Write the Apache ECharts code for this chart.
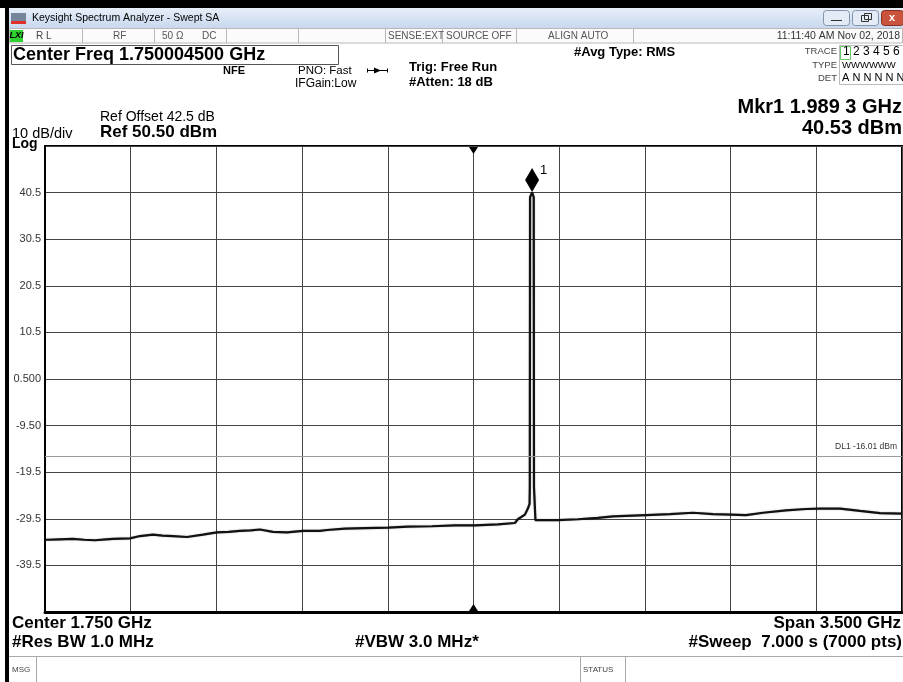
<!DOCTYPE html>
<html>
<head>
<meta charset="utf-8">
<script src="https://cdn.jsdelivr.net/npm/echarts@6.0.0/dist/echarts.min.js"></script>
<style>
html, body { margin: 0; padding: 0; background: #fff; }
#spec { width: 903px; height: 682px; }
</style>
</head>
<body>
<div id="spec"></div>
<script>
// trace (GHz / dBm)
var freqGHz = [0.000, 0.012, 0.060, 0.114, 0.160, 0.204, 0.250, 0.278, 0.347, 0.388,
  0.441, 0.480, 0.523, 0.580, 0.645, 0.702, 0.750, 0.796, 0.840, 0.878,
  0.931, 0.988, 1.054, 1.123, 1.152, 1.225, 1.307, 1.401, 1.482, 1.581,
  1.674, 1.756, 1.850, 1.919, 1.931, 1.960, 1.972, 1.979, 1.980, 1.981,
  1.9893, 1.996, 1.997, 2.003, 2.009, 2.095, 2.177, 2.258, 2.320, 2.455,
  2.552, 2.646, 2.728, 2.802, 2.863, 2.933, 3.026, 3.108, 3.165, 3.247,
  3.328, 3.410, 3.500];
var levelDbm = [-34.0, -34.0, -33.9, -33.8, -34.0, -34.1, -33.9, -33.8, -33.7, -33.2,
  -32.9, -33.1, -33.2, -33.4, -32.9, -32.4, -32.3, -32.1, -32.0, -31.8,
  -32.3, -32.4, -32.1, -32.1, -31.9, -31.6, -31.5, -31.4, -31.2, -31.1,
  -30.9, -30.9, -30.7, -30.4, -29.6, -28.6, -27.3, -26.3, -22.7, 39.5,
  40.53, 39.5, -22.7, -29.8, -30.0, -29.8, -29.6, -29.3, -29.0, -28.7,
  -28.5, -28.2, -28.5, -28.6, -28.7, -28.2, -27.7, -27.4, -27.3, -27.3,
  -27.8, -28.3, -28.4];
var yTickLabels = ['-39.5', '-29.5', '-19.5', '-9.50', '0.500', '10.5', '20.5', '30.5', '40.5'];

var refLevel = 50.5, dbPerDiv = 10, startGHz = 0, spanGHz = 3.5, centerGHz = 1.75;
var markerFreq = 1.9893, markerLevel = 40.53;
var displayLine = -16.01;
var yMin = refLevel - 10 * dbPerDiv;

var F = '"Liberation Sans", Arial, sans-serif';

var chartDom = document.getElementById('spec');
var myChart = echarts.init(chartDom);

var g = [];
function txt(x, y, s, font, opt) {
  opt = opt || {};
  g.push({
    type: 'text', x: x, y: y, z: 100,
    style: {
      text: s, font: font, fill: opt.fill || '#000',
      textAlign: opt.align || 'left', textVerticalAlign: 'middle'
    }
  });
}
function box(x, y, w, h, fill, stroke, r) {
  g.push({
    type: 'rect', z: 90,
    shape: { x: x, y: y, width: w, height: h, r: r || 0 },
    style: { fill: fill || 'none', stroke: stroke || null, lineWidth: 1 }
  });
}
function vline(x, y1, y2, c) {
  g.push({ type: 'line', z: 95, shape: { x1: x, y1: y1, x2: x, y2: y2 }, style: { stroke: c, lineWidth: 1 } });
}
function hline(x1, x2, y, c) {
  g.push({ type: 'line', z: 95, shape: { x1: x1, y1: y, x2: x2, y2: y }, style: { stroke: c, lineWidth: 1 } });
}

// window frame + title bar
box(0, 0, 903, 8, '#000');
box(5, 0, 4, 682, '#000');
g.push({
  type: 'rect', z: 90, shape: { x: 9, y: 8, width: 894, height: 20 },
  style: { fill: new echarts.graphic.LinearGradient(0, 0, 0, 1, [
    { offset: 0, color: '#e6eef9' }, { offset: 1, color: '#c8d8ee' }]) }
});
box(11, 13, 15, 11, '#76859a');
box(11, 21, 15, 3, '#e0302a');
txt(32, 18, 'Keysight Spectrum Analyzer - Swept SA', '10.5px ' + F);
box(823.5, 10.5, 26, 15, '#e3ebf6', '#8293ab', 3);
hline(831, 842, 20.5, '#333');
box(852.5, 10.5, 26, 15, '#e3ebf6', '#8293ab', 3);
box(861.5, 15.5, 7, 6, null, '#333');
box(864.5, 13.5, 7, 6, null, '#333');
box(881.5, 10.5, 22, 15, '#c9533c', '#8a3022', 3);
txt(892, 18, 'x', 'bold 11px ' + F, { fill: '#fff', align: 'center' });

// status row
box(9.5, 28.5, 893, 14.5, '#fbfbfb', '#b8b8b8');
box(10, 30, 13, 12, '#2fd12f');
txt(16.5, 36, 'LXI', 'italic bold 9px ' + F, { align: 'center' });
[82, 154, 226, 298, 385, 442, 516, 633].forEach(function (x) { vline(x + 0.5, 28.5, 43, '#b8b8b8'); });
txt(36, 36, 'R L', '10px ' + F, { fill: '#444' });
txt(113, 36, 'RF', '10px ' + F, { fill: '#555' });
txt(162, 36, '50 Ω', '10px ' + F, { fill: '#555' });
txt(202, 36, 'DC', '10px ' + F, { fill: '#555' });
txt(388, 36, 'SENSE:EXT', '10px ' + F, { fill: '#555' });
txt(446, 36, 'SOURCE OFF', '10px ' + F, { fill: '#555' });
txt(548, 36, 'ALIGN AUTO', '10px ' + F, { fill: '#555' });
txt(900, 36, '11:11:40 AM Nov 02, 2018', '10.5px ' + F, { fill: '#333', align: 'right' });

// settings panel
box(11.5, 45.5, 327, 19, '#fff', '#555');
txt(13, 55, 'Center Freq 1.750004500 GHz', 'bold 18px ' + F);
txt(223, 71, 'NFE', 'bold 11px ' + F);
txt(298, 71, 'PNO: Fast', '11.5px ' + F);
txt(295, 84, 'IFGain:Low', '12px ' + F);
hline(367, 388, 70.5, '#000');
g.push({ type: 'polygon', z: 95, shape: { points: [[374, 67.5], [381, 70.5], [374, 73.5]] }, style: { fill: '#000' } });
vline(367.5, 68.5, 72.5, '#000');
vline(387.5, 68.5, 72.5, '#000');
txt(409, 67, 'Trig: Free Run', 'bold 13px ' + F);
txt(409, 82, '#Atten: 18 dB', 'bold 13px ' + F);
txt(574, 52, '#Avg Type: RMS', 'bold 13px ' + F);

txt(837, 51, 'TRACE', '9.5px ' + F, { fill: '#444', align: 'right' });
txt(837, 65, 'TYPE', '9.5px ' + F, { fill: '#444', align: 'right' });
txt(837, 78, 'DET', '9.5px ' + F, { fill: '#444', align: 'right' });
box(839.5, 45.5, 64, 39, null, '#bbb');
box(840.5, 46.5, 10, 13, null, '#6c6');
txt(843, 52, '1 2 3 4 5 6', '12px ' + F);
txt(842, 65, 'WWWWWW', '9.5px ' + F);
txt(842, 78, 'A N N N N N', '11px ' + F);

txt(100, 117, 'Ref Offset 42.5 dB', '14px ' + F);
txt(100, 132, 'Ref 50.50 dBm', 'bold 17px ' + F);
txt(12, 134, '10 dB/div', '14.5px ' + F);
txt(12, 144, 'Log', 'bold 14px ' + F);
txt(902, 107, 'Mkr1 1.989 3 GHz', 'bold 20px ' + F, { align: 'right' });
txt(902, 128, '40.53 dBm', 'bold 20px ' + F, { align: 'right' });

// bottom annotation
txt(12, 623, 'Center 1.750 GHz', 'bold 17px ' + F);
txt(12, 642, '#Res BW 1.0 MHz', 'bold 17px ' + F);
txt(355, 642, '#VBW 3.0 MHz*', 'bold 17px ' + F);
txt(901, 623, 'Span 3.500 GHz', 'bold 17px ' + F, { align: 'right' });
txt(902, 642, '#Sweep  7.000 s (7000 pts)', 'bold 17px ' + F, { align: 'right' });

// message bar
hline(9, 903, 656.5, '#aaa');
vline(36.5, 656.5, 682, '#aaa');
vline(580.5, 656.5, 682, '#aaa');
vline(625.5, 656.5, 682, '#aaa');
txt(12, 670, 'MSG', '8px ' + F, { fill: '#444' });
txt(583, 670, 'STATUS', '8px ' + F, { fill: '#444' });

var traceData = freqGHz.map(function (f, i) { return [f, levelDbm[i]]; });

var option = {
  animation: false,
  backgroundColor: '#fff',
  grid: {
    left: 45, top: 146, width: 857, height: 466,
    show: true, borderColor: '#000', borderWidth: 2, backgroundColor: 'transparent'
  },
  xAxis: {
    type: 'value', min: startGHz, max: startGHz + spanGHz, interval: spanGHz / 10,
    axisLine: { show: true, onZero: false, lineStyle: { color: '#000', width: 3 } },
    axisTick: { show: false },
    axisLabel: { show: false },
    splitLine: { show: true, lineStyle: { color: '#444', width: 1 } }
  },
  yAxis: {
    type: 'value', min: yMin, max: refLevel, interval: dbPerDiv,
    axisLine: { show: true, onZero: false, lineStyle: { color: '#000', width: 2 } },
    axisTick: { show: false },
    axisLabel: {
      showMinLabel: false, showMaxLabel: false,
      color: '#333', fontSize: 11, fontFamily: 'Liberation Sans', margin: 4,
      formatter: function (v) {
        var k = Math.round((v - yMin) / dbPerDiv) - 1;
        return yTickLabels[k] || '';
      }
    },
    splitLine: { show: true, lineStyle: { color: '#444', width: 1 } }
  },
  series: [{
    name: 'Trace 1',
    type: 'line',
    data: traceData,
    showSymbol: false,
    lineStyle: { color: '#111', width: 2.2, shadowColor: 'rgba(0,0,0,0.35)', shadowBlur: 1.5 },
    markLine: {
      silent: true, symbol: 'none',
      lineStyle: { color: '#999', width: 1, type: 'solid' },
      label: {
        show: true, position: 'insideEndTop', formatter: 'DL1 -16.01 dBm',
        fontSize: 8.5, color: '#333', fontFamily: 'Liberation Sans'
      },
      data: [{ yAxis: displayLine }]
    },
    markPoint: {
      silent: true,
      data: [
        {
          coord: [markerFreq, markerLevel], symbol: 'diamond', symbolSize: [14, 24],
          symbolOffset: [0, -12.5], itemStyle: { color: '#000' },
          label: { show: true, formatter: '1', position: 'right', distance: 1, offset: [0, -10],
            color: '#000', fontSize: 13, fontFamily: 'Liberation Sans' }
        },
        {
          coord: [centerGHz, refLevel], symbol: 'triangle', symbolSize: [9, 7], symbolRotate: 180,
          symbolOffset: [0, 4.5], itemStyle: { color: '#000' }, label: { show: false }
        },
        {
          coord: [centerGHz, yMin], symbol: 'triangle', symbolSize: [9, 7],
          symbolOffset: [0, -4.5], itemStyle: { color: '#000' }, label: { show: false }
        }
      ]
    }
  }],
  graphic: g
};

option && myChart.setOption(option);
</script>
</body>
</html>
